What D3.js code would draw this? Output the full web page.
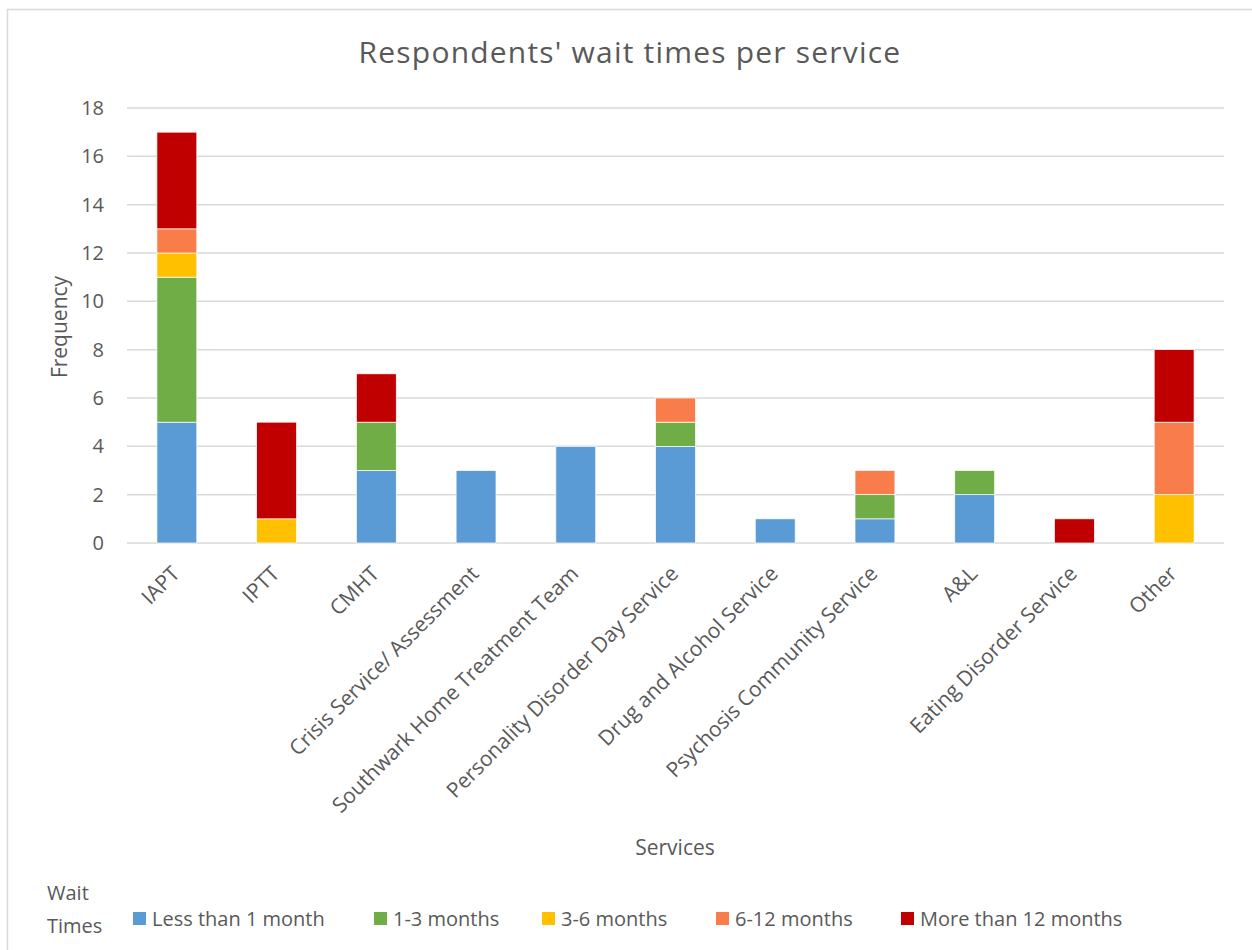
<!DOCTYPE html>
<html><head><meta charset="utf-8">
<script src="https://cdn.jsdelivr.net/npm/d3@7"></script>
<style>body{margin:0;background:#fff;} svg{display:block;font-family:"Open Sans","Noto Sans",sans-serif;}</style>
</head><body>
<svg id="c" width="1252" height="950"></svg>
<script>
const categories = ["IAPT","IPTT","CMHT","Crisis Service/ Assessment","Southwark Home Treatment Team","Personality Disorder Day Service","Drug and Alcohol Service","Psychosis Community Service","A&L","Eating Disorder Service","Other"];
const seriesNames = ["Less than 1 month","1-3 months","3-6 months","6-12 months","More than 12 months"];
const lessThan1 = [5,0,3,3,4,4,1,1,2,0,0];
const m1to3     = [6,0,2,0,0,1,0,1,1,0,0];
const m3to6     = [1,1,0,0,0,0,0,0,0,0,2];
const m6to12    = [1,0,0,0,0,1,0,1,0,0,3];
const moreThan12= [4,4,2,0,0,0,0,0,0,1,3];
const yTicks = [0,2,4,6,8,10,12,14,16,18];
const colors = ["#5B9BD5","#70AD47","#FFC000","#F87D4B","#C00000"];

(function(){
const FONT = '"Open Sans","Noto Sans",sans-serif';
const TXT = "#595959";
const seriesVals = [lessThan1,m1to3,m3to6,m6to12,moreThan12];
const rows = categories.map((c,i)=>{const r={cat:c}; seriesNames.forEach((s,j)=>r[s]=seriesVals[j][i]); return r;});
const stack = d3.stack().keys(seriesNames)(rows);

const svg = d3.select("#c");
const pL=127, pR=1224, pT=108, pB=543;
const x = d3.scaleBand().domain(categories).range([pL,pR]).paddingInner(0.6).paddingOuter(0.3);
const y = d3.scaleLinear().domain([0,18]).range([pB,pT]);

svg.append("rect").attr("x",7.5).attr("y",9.5).attr("width",1260).attr("height",960).attr("fill","#fff").attr("stroke","#d9d9d9").attr("stroke-width",1.5);

svg.append("text").attr("x",630).attr("y",63).attr("text-anchor","middle").attr("font-size",30).attr("letter-spacing",1.2).attr("fill",TXT).text("Respondents' wait times per service");

svg.append("g").selectAll("line").data(yTicks).join("line")
  .attr("x1",pL).attr("x2",pR).attr("y1",d=>y(d)).attr("y2",d=>y(d))
  .attr("stroke","#d9d9d9").attr("stroke-width",1.5);

const yAxis = svg.append("g").attr("transform",`translate(${pL},0)`)
  .call(d3.axisLeft(y).tickValues(yTicks).tickSize(0).tickPadding(23));
yAxis.select(".domain").remove();
yAxis.attr("font-family",FONT);
yAxis.selectAll("text").attr("font-size",20).attr("fill",TXT);

svg.append("text").attr("transform","translate(67,327) rotate(-90)").attr("text-anchor","middle").attr("font-size",21).attr("fill",TXT).text("Frequency");

svg.append("g").selectAll("g").data(stack).join("g").attr("fill",(d,i)=>colors[i])
  .selectAll("rect").data(d=>d.filter(p=>p[1]-p[0]>0)).join("rect")
  .attr("x",d=>x(d.data.cat)).attr("width",x.bandwidth())
  .attr("y",d=>y(d[1])).attr("height",d=>y(d[0])-y(d[1]))
  .attr("stroke","#fff").attr("stroke-width",0.7);

const xAxis = svg.append("g").attr("transform",`translate(0,${pB})`)
  .call(d3.axisBottom(x).tickSize(0).tickPadding(0));
xAxis.select(".domain").remove();
xAxis.attr("font-family",FONT);
xAxis.selectAll("text").attr("font-size",21).attr("fill",TXT)
  .attr("text-anchor","end").attr("dy",0).attr("y",0)
  .attr("transform","translate(4,32) rotate(-45)");

svg.append("text").attr("x",675).attr("y",855).attr("text-anchor","middle").attr("font-size",21).attr("fill",TXT).text("Services");

svg.append("text").attr("x",47).attr("y",900).attr("font-size",20).attr("fill",TXT).text("Wait");
svg.append("text").attr("x",47).attr("y",933).attr("font-size",20).attr("fill",TXT).text("Times");
const legX = [133,374,542,716,901];
const lg = svg.append("g").selectAll("g").data(seriesNames).join("g").attr("transform",(d,i)=>`translate(${legX[i]},912)`);
lg.append("rect").attr("width",13).attr("height",13).attr("fill",(d,i)=>colors[i]);
lg.append("text").attr("x",19).attr("y",14).attr("font-size",20).attr("fill",TXT).text(d=>d);
})();
</script>
</body></html>
